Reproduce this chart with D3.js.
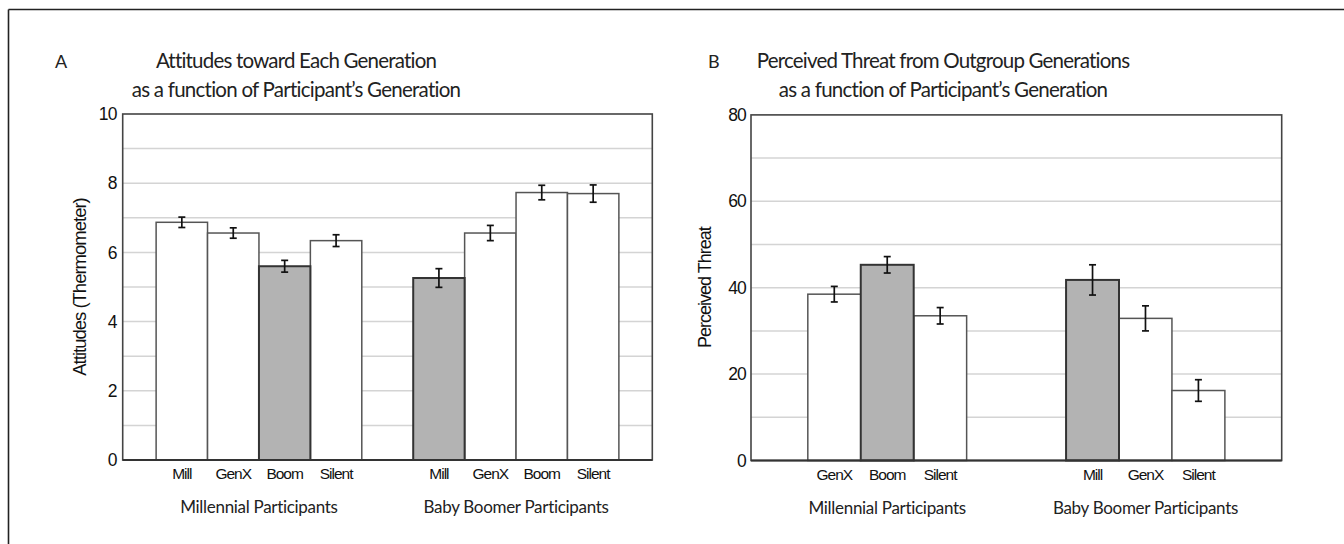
<!DOCTYPE html>
<html><head><meta charset="utf-8">
<script src="https://cdn.jsdelivr.net/npm/d3@7"></script>
<style>
body{margin:0;background:#fff;}
svg{display:block;}
</style></head>
<body><svg id="c" width="1344" height="544"></svg>
<script>
// ---- Data ----
const groups = ["Millennial Participants", "Baby Boomer Participants"];

// Panel A: attitudes
const aCategories = ["Mill", "GenX", "Boom", "Silent"];
const aMillennialValues = [6.87, 6.56, 5.60, 6.34];
const aMillennialErrors = [0.15, 0.15, 0.17, 0.17];
const aBoomerValues = [5.26, 6.56, 7.73, 7.70];
const aBoomerErrors = [0.27, 0.22, 0.21, 0.25];
const aMillennialHighlight = ["Boom"];
const aBoomerHighlight = ["Mill"];
const aTicks = [0, 2, 4, 6, 8, 10];
const aGrid = [1, 2, 3, 4, 5, 6, 7, 8, 9];

// Panel B: perceived threat
const bMillennialCategories = ["GenX", "Boom", "Silent"];
const bMillennialValues = [38.5, 45.3, 33.5];
const bMillennialErrors = [1.8, 1.9, 1.9];
const bBoomerCategories = ["Mill", "GenX", "Silent"];
const bBoomerValues = [41.8, 32.9, 16.2];
const bBoomerErrors = [3.5, 2.9, 2.5];
const bMillennialHighlight = ["Boom"];
const bBoomerHighlight = ["Mill"];
const bTicks = [0, 20, 40, 60, 80];
const bGrid = [10, 20, 30, 40, 50, 60, 70];

const ARIAL = '"Liberation Sans", Arial, sans-serif';
const CAL = 'Lato, "Open Sans", sans-serif';

const svg = d3.select("#c");

// outer frame (top & left only visible)
svg.append("line").attr("x1",8.5).attr("x2",1344).attr("y1",9.5).attr("y2",9.5).attr("stroke","#222").attr("stroke-width",1.6);
svg.append("line").attr("x1",8.5).attr("x2",8.5).attr("y1",9.5).attr("y2",544).attr("stroke","#222").attr("stroke-width",1.6);

function styleText(sel, fam, size, ls, fill){
  sel.style("font-family", fam).style("font-size", size + "px")
     .style("letter-spacing", ls + "px").style("fill", fill || "#111");
  return sel;
}

function panel(cfg){
  const g = svg.append("g");
  const x0 = d3.scaleBand().domain(groups).range([cfg.left, cfg.right])
    .paddingInner(cfg.pIn).paddingOuter(cfg.pOut);
  const y = d3.scaleLinear().domain(cfg.domain).range([cfg.bottom, cfg.top]);

  // gridlines
  g.selectAll(".grid").data(cfg.grid).join("line")
    .attr("x1", cfg.left).attr("x2", cfg.right)
    .attr("y1", d => y(d)).attr("y2", d => y(d))
    .attr("stroke", "#d4d4d4").attr("stroke-width", 1.5);

  cfg.series.forEach((s, gi) => {
    const x1 = d3.scaleBand().domain(s.cats).range([x0(groups[gi]), x0(groups[gi]) + x0.bandwidth()]).padding(0);
    const data = s.cats.map((c, i) => ({c, v: s.vals[i], e: s.errs[i], hi: s.hi.includes(c)}));
    const bg = g.append("g");
    bg.selectAll("rect").data(data).join("rect")
      .attr("x", d => x1(d.c)).attr("width", x1.bandwidth())
      .attr("y", d => y(d.v)).attr("height", d => y(0) - y(d.v))
      .attr("fill", d => d.hi ? "#b3b3b3" : "#fff")
      .attr("stroke", d => d.hi ? "#333" : "#555")
      .attr("stroke-width", d => d.hi ? 2 : 1.5);
    bg.selectAll("rect").filter(d => d.hi).raise();
    const eb = g.append("g").attr("stroke", "#111").attr("stroke-width", 1.7);
    data.forEach(d => {
      const cx = x1(d.c) + x1.bandwidth()/2;
      eb.append("line").attr("x1", cx).attr("x2", cx).attr("y1", y(d.v + d.e)).attr("y2", y(d.v - d.e));
      eb.append("line").attr("x1", cx-3.5).attr("x2", cx+3.5).attr("y1", y(d.v + d.e)).attr("y2", y(d.v + d.e));
      eb.append("line").attr("x1", cx-3.5).attr("x2", cx+3.5).attr("y1", y(d.v - d.e)).attr("y2", y(d.v - d.e));
    });
    styleText(g.append("g").selectAll("text").data(s.cats).join("text")
      .attr("x", c => x1(c) + x1.bandwidth()/2).attr("y", cfg.bottom + 19)
      .attr("text-anchor","middle").text(c => c), ARIAL, 15.5, -1.0);
    styleText(g.append("text")
      .attr("x", x0(groups[gi]) + x0.bandwidth()/2).attr("y", cfg.bottom + 53)
      .attr("text-anchor","middle").text(groups[gi]), CAL, 17, -0.3, "#222");
  });

  // frame
  g.append("rect").attr("x", cfg.left).attr("y", y(cfg.domain[1]))
    .attr("width", cfg.right - cfg.left).attr("height", y(0) - y(cfg.domain[1]))
    .attr("fill","none").attr("stroke","#444").attr("stroke-width",1.6);
  g.append("line").attr("x1", cfg.left).attr("x2", cfg.right).attr("y1", y(0)).attr("y2", y(0))
    .attr("stroke","#333").attr("stroke-width",2);

  // y axis via d3 axis (labels only)
  const ax = g.append("g").attr("transform", `translate(${cfg.left},0)`)
    .call(d3.axisLeft(y).tickValues(cfg.ticks).tickSize(0).tickPadding(cfg.tickPad));
  ax.select(".domain").remove();
  ax.attr("font-size", null).attr("font-family", null);
  styleText(ax.selectAll("text"), ARIAL, 17.5, -0.8);

  styleText(g.append("text")
    .attr("transform", `translate(${cfg.ylabX},${(y(0)+y(cfg.domain[1]))/2}) rotate(-90)`)
    .attr("text-anchor","middle").attr("dy","0.35em").text(cfg.ylab), ARIAL, cfg.ylabSize, -1.0);

  const tx = cfg.titleX;
  styleText(g.append("text").attr("x", tx).attr("y", 68).attr("text-anchor","middle").text(cfg.title1), CAL, 20.5, -0.8, "#222");
  styleText(g.append("text").attr("x", tx).attr("y", 97).attr("text-anchor","middle").text(cfg.title2), CAL, 20.5, -0.75, "#222");
  styleText(g.append("text").attr("x", cfg.letterX).attr("y", 68).text(cfg.letter), CAL, 18, 0, "#222");
}

panel({
  left: 122.7, right: 652.3, top: 114, bottom: 460,
  pIn: 0.2, pOut: 0.13, domain: [0, 10],
  grid: aGrid, ticks: aTicks, tickPad: 6,
  series: [
    {cats: aCategories, vals: aMillennialValues, errs: aMillennialErrors, hi: aMillennialHighlight},
    {cats: aCategories, vals: aBoomerValues, errs: aBoomerErrors, hi: aBoomerHighlight}
  ],
  ylab: "Attitudes (Thermometer)", ylabX: 80, ylabSize: 18.5,
  title1: "Attitudes toward Each Generation",
  title2: "as a function of Participant\u2019s Generation",
  titleX: 296, letter: "A", letterX: 55
});

panel({
  left: 751, right: 1281.7, top: 114.9, bottom: 460.5,
  pIn: 0.385, pOut: 0.22, domain: [0, 80],
  grid: bGrid, ticks: bTicks, tickPad: 5,
  series: [
    {cats: bMillennialCategories, vals: bMillennialValues, errs: bMillennialErrors, hi: bMillennialHighlight},
    {cats: bBoomerCategories, vals: bBoomerValues, errs: bBoomerErrors, hi: bBoomerHighlight}
  ],
  ylab: "Perceived Threat", ylabX: 705, ylabSize: 18,
  title1: "Perceived Threat from Outgroup Generations",
  title2: "as a function of Participant\u2019s Generation",
  titleX: 943, letter: "B", letterX: 708
});
</script></body></html>
